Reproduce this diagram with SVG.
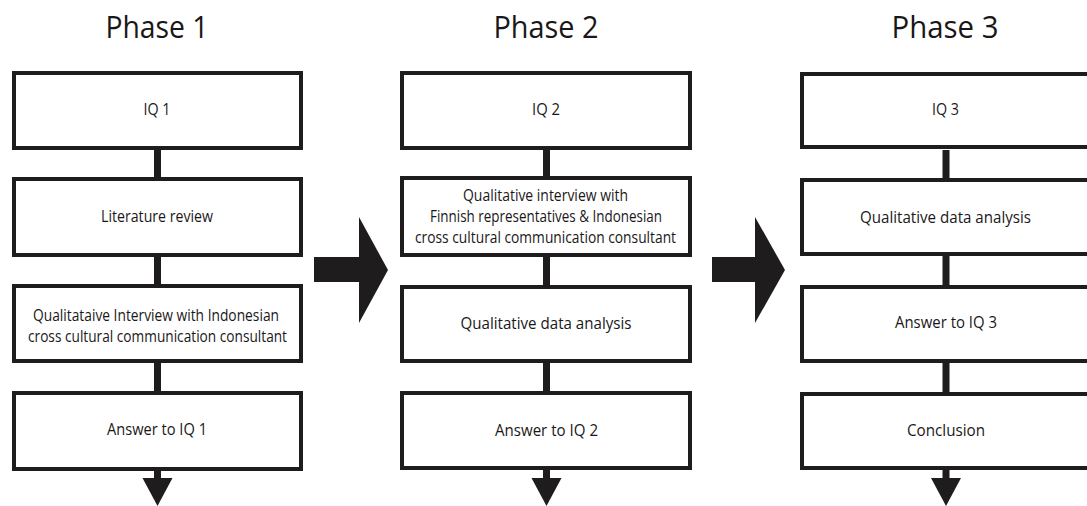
<svg xmlns="http://www.w3.org/2000/svg" width="1087" height="506" viewBox="0 0 1087 506">
<style>
.box{fill:#fff;stroke:#1f1c1d;stroke-width:4}
.t{font-family:"Open Sans","Liberation Sans",sans-serif;font-size:15.5px;fill:#1a1718;text-anchor:middle}
.h{font-family:"Open Sans","Liberation Sans",sans-serif;font-size:31px;fill:#1a1718;text-anchor:middle}
.c{stroke:#1f1c1d;stroke-width:7;fill:none}
.a{fill:#1f1c1d}
</style>
<rect width="1087" height="506" fill="#fff"/>
<g id="titles">
<text class="h" x="157" y="38" textLength="103" lengthAdjust="spacingAndGlyphs">Phase 1</text>
<text class="h" x="546" y="38" textLength="105" lengthAdjust="spacingAndGlyphs">Phase 2</text>
<text class="h" x="945" y="38" textLength="107" lengthAdjust="spacingAndGlyphs">Phase 3</text>
</g>
<g id="connectors">
<line class="c" x1="157.5" y1="150" x2="157.5" y2="480"/>
<line class="c" x1="546.5" y1="150" x2="546.5" y2="480"/>
<line class="c" x1="946" y1="150" x2="946" y2="480"/>
<polygon class="a" points="142.5,478 172.5,478 157.5,506"/>
<polygon class="a" points="531.5,478 561.5,478 546.5,506"/>
<polygon class="a" points="931,478 961,478 946,506"/>
<polygon class="a" points="314,257 359,257 359,217 388,270 359,323 359,282 314,282"/>
<polygon class="a" points="712,257 755,257 755,217 785,270 755,323 755,282 712,282"/>
</g>
<g id="p1-iq1"><rect class="box" x="14" y="73" width="287" height="75"/><text class="t" x="157" y="115" textLength="27" lengthAdjust="spacingAndGlyphs">IQ 1</text></g>
<g id="p1-lit"><rect class="box" x="14" y="179" width="287" height="76"/><text class="t" x="157" y="222" textLength="112" lengthAdjust="spacingAndGlyphs">Literature review</text></g>
<g id="p1-int"><rect class="box" x="14" y="286" width="287" height="75"/>
<text class="t" x="156" y="320.5" textLength="246" lengthAdjust="spacingAndGlyphs">Qualitataive Interview with Indonesian</text>
<text class="t" x="157.5" y="341.5" textLength="259" lengthAdjust="spacingAndGlyphs">cross cultural communication consultant</text></g>
<g id="p1-ans"><rect class="box" x="14" y="393" width="287" height="76"/><text class="t" x="157" y="435" textLength="100" lengthAdjust="spacingAndGlyphs">Answer to IQ 1</text></g>

<g id="p2-iq2"><rect class="box" x="402" y="73" width="288" height="75"/><text class="t" x="546" y="115" textLength="28" lengthAdjust="spacingAndGlyphs">IQ 2</text></g>
<g id="p2-int"><rect class="box" x="402" y="178" width="288" height="77"/>
<text class="t" x="545.5" y="201" textLength="165" lengthAdjust="spacingAndGlyphs">Qualitative interview with</text>
<text class="t" x="546" y="222" textLength="232" lengthAdjust="spacingAndGlyphs">Finnish representatives &amp; Indonesian</text>
<text class="t" x="545.5" y="242.5" textLength="261" lengthAdjust="spacingAndGlyphs">cross cultural communication consultant</text></g>
<g id="p2-data"><rect class="box" x="402" y="287" width="288" height="74"/><text class="t" x="546" y="329" textLength="171" lengthAdjust="spacingAndGlyphs">Qualitative data analysis</text></g>
<g id="p2-ans"><rect class="box" x="402" y="393" width="288" height="75"/><text class="t" x="546.5" y="436" textLength="103" lengthAdjust="spacingAndGlyphs">Answer to IQ 2</text></g>

<g id="p3-iq3"><rect class="box" x="802" y="74" width="288" height="73"/><text class="t" x="945.5" y="115" textLength="27" lengthAdjust="spacingAndGlyphs">IQ 3</text></g>
<g id="p3-data"><rect class="box" x="802" y="180" width="288" height="74"/><text class="t" x="945.5" y="223" textLength="171" lengthAdjust="spacingAndGlyphs">Qualitative data analysis</text></g>
<g id="p3-ans"><rect class="box" x="802" y="287" width="288" height="74"/><text class="t" x="946" y="328" textLength="102" lengthAdjust="spacingAndGlyphs">Answer to IQ 3</text></g>
<g id="p3-concl"><rect class="box" x="802" y="394" width="288" height="74"/><text class="t" x="946" y="436" textLength="78" lengthAdjust="spacingAndGlyphs">Conclusion</text></g>
</svg>
